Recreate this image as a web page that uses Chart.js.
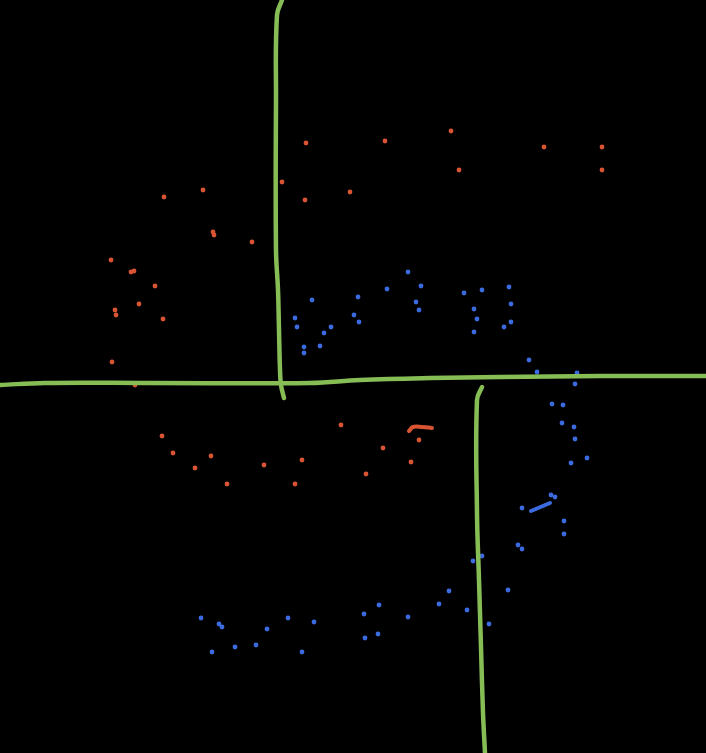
<!DOCTYPE html>
<html>
<head>
<meta charset="utf-8">
<script src="https://cdn.jsdelivr.net/npm/chart.js@4"></script>
<style>
html, body { margin: 0; padding: 0; background: #000; }
#wrap { width: 706px; height: 753px; }
</style>
</head>
<body>
<div id="wrap"><canvas id="chart" width="706" height="753"></canvas></div>
<script>
"use strict";

// hand-drawn green dividers
var hLine = [[0,385],[45,383],[150,383],[310,383],[360,380],[430,378],[500,377],[600,376],[706,376]];
var vLineLeft = [[282,0],[277,15],[276,100],[276,250],[278,290],[279,330],[280,370],[281,385],[284,398]];
var vLineRight = [[482,387],[477,400],[477,513],[479,580],[481,647],[483,713],[485,753]];

// short strokes
var redStroke = [[409,431],[413,427],[422,427],[432,428]];
var blueStroke = [[531,511],[550,503]];

var redDots = [
    [306,143],[385,141],[451,131],[544,147],[602,147],[459,170],[602,170],
    [282,182],[350,192],[305,200],[203,190],[164,197],[213,232],[214,235],
    [252,242],[111,260],[131,272],[134,271],[155,286],[139,304],[115,310],
    [116,315],[163,319],[112,362],[135,385],
    [162,436],[173,453],[195,468],[211,456],[227,484],[264,465],[302,460],
    [295,484],[341,425],[383,448],[366,474],[419,440],[411,462]
];

var blueDots = [
    [312,300],[295,318],[297,327],[304,347],[304,353],[320,346],[324,333],
    [331,327],[358,297],[354,315],[359,322],[387,289],[408,272],[421,286],
    [416,302],[419,310],[464,293],[482,290],[474,309],[477,319],[474,332],
    [509,287],[511,304],[511,322],[504,327],[529,360],[537,372],[577,373],
    [575,384],[552,404],[563,405],[562,423],[574,427],[575,439],[587,458],
    [571,463],[551,495],[555,497],[522,508],[564,521],[564,534],[518,545],
    [522,549],[201,618],[219,624],[222,627],[212,652],[235,647],[256,645],
    [267,629],[288,618],[302,652],[314,622],[364,614],[379,605],[365,638],
    [378,634],[408,617],[439,604],[449,591],[467,610],[473,561],[482,556],
    [489,624],[508,590]
];

var GREEN = '#86bd55';
var RED = '#d95433';
var BLUE = '#3c6be0';

function pts(list) {
    return list.map(function(p) { return { x: p[0], y: p[1] }; });
}

function stroke(list, color, width) {
    return {
        data: pts(list),
        showLine: true,
        borderColor: color,
        borderWidth: width,
        borderCapStyle: 'round',
        borderJoinStyle: 'round',
        pointRadius: 0,
        tension: 0.4,
        clip: false
    };
}

function dots(list, color) {
    return {
        data: pts(list),
        showLine: false,
        backgroundColor: color,
        borderWidth: 0,
        pointRadius: 2.4,
        clip: false
    };
}

var chart = new Chart(document.getElementById('chart'), {
    type: 'scatter',
    data: {
        datasets: [
            stroke(hLine, GREEN, 4.5),
            stroke(vLineLeft, GREEN, 4.5),
            stroke(vLineRight, GREEN, 4.5),
            stroke(redStroke, RED, 4),
            stroke(blueStroke, BLUE, 4),
            dots(redDots, RED),
            dots(blueDots, BLUE)
        ]
    },
    options: {
        responsive: false,
        animation: false,
        layout: { padding: 0, autoPadding: false },
        plugins: { legend: { display: false }, tooltip: { enabled: false } },
        scales: {
            x: { type: 'linear', min: 0, max: 706, display: false },
            y: { type: 'linear', min: 0, max: 753, reverse: true, display: false }
        }
    }
});
</script>
</body>
</html>
